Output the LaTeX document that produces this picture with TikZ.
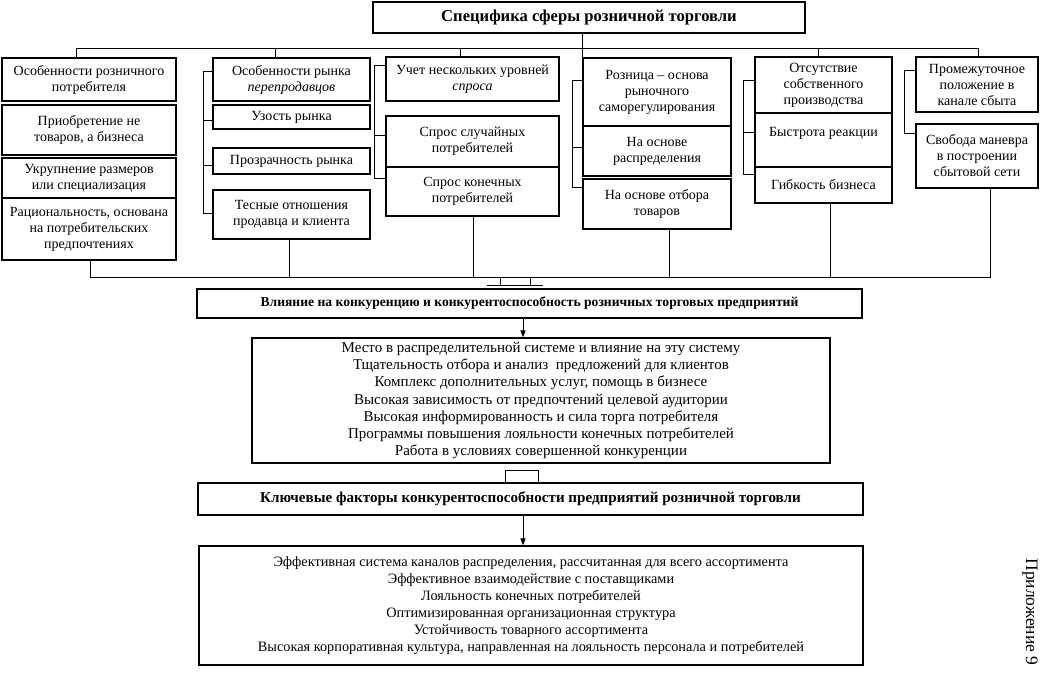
\documentclass[tikz,border=0pt]{standalone}
\usepackage{fontspec}
\setmainfont{Liberation Serif}
\usetikzlibrary{arrows.meta}
\newcommand\fsz[2]{\fontsize{#1}{#2}\selectfont}
\begin{document}
\begin{tikzpicture}[x=1pt,y=-1pt,
  box/.style={draw, line width=1.15pt, inner sep=1pt, align=center, font=\fsz{14}{16}},
  ln/.style={line width=1pt},
  arr/.style={line width=1pt, -{Triangle[length=7pt,width=5pt]}}]
\useasboundingbox (0,0) rectangle (1041,672);
% title
\node[box, minimum width=432, minimum height=31, font=\fsz{16.6}{20}\bfseries] (title) at (589,17.5) {Специфика сферы розничной торговли};
% column 1
\node[box, minimum width=174, minimum height=43] (b1a) at (89,79.5) {Особенности розничного\\потребителя};
\node[box, minimum width=174, minimum height=50] (b1b) at (89,130) {Приобретение не\\товаров, а бизнеса};
\node[box, minimum width=174, minimum height=40] (b1c) at (89,178) {Укрупнение размеров\\или специализация};
\node[box, minimum width=174, minimum height=62] (b1d) at (89,229) {Рациональность, основана\\на потребительских\\предпочтениях};
% column 2
\node[box, minimum width=157, minimum height=43] (b2a) at (291.5,79.5) {Особенности рынка\\\textit{перепродавцов}};
\node[box, minimum width=157, minimum height=24] (b2b) at (291.5,117) {Узость рынка};
\node[box, minimum width=157, minimum height=26] (b2c) at (291.5,161) {Прозрачность рынка};
\node[box, minimum width=157, minimum height=49] (b2d) at (291.5,214.5) {Тесные отношения\\продавца и клиента};
% column 3
\node[box, minimum width=173, minimum height=44] (b3a) at (472.5,79) {Учет нескольких уровней\\\textit{спроса}};
\node[box, minimum width=173, minimum height=51] (b3b) at (472.5,141.5) {Спрос случайных\\потребителей};
\node[box, minimum width=173, minimum height=49] (b3c) at (472.5,191.5) {Спрос конечных\\потребителей};
% column 4
\node[box, minimum width=148, minimum height=68] (b4a) at (657,92) {Розница -- основа\\рыночного\\саморегулирования};
\node[box, minimum width=148, minimum height=50] (b4b) at (657,151) {На основе\\распределения};
\node[box, minimum width=148, minimum height=50] (b4c) at (657,204) {На основе отбора\\товаров};
% column 5
\node[box, minimum width=137, minimum height=56] (b5a) at (823.5,85) {Отсутствие\\собственного\\производства};
\node[box, minimum width=137, minimum height=54] (b5b) at (823.5,140) {Быстрота реакции\\\mbox{}};
\node[box, minimum width=137, minimum height=36] (b5c) at (823.5,185) {Гибкость бизнеса};
% column 6
\node[box, minimum width=122, minimum height=55] (b6a) at (977,84.5) {Промежуточное\\положение в\\канале сбыта};
\node[box, minimum width=122, minimum height=64] (b6b) at (977,156) {Свобода маневра\\в построении\\сбытовой сети};
% lower part
\node[box, minimum width=665, minimum height=29, font=\fsz{13.6}{16}\bfseries] (vl) at (529.5,303.5) {Влияние на конкуренцию и конкурентоспособность розничных торговых предприятий};
\node[box, minimum width=578, minimum height=125, font=\fsz{15}{17.2}] (list1) at (541,400.5) {Место в распределительной системе и влияние на эту систему\\Тщательность отбора и анализ\ \ предложений для клиентов\\Комплекс дополнительных услуг, помощь в бизнесе\\Высокая зависимость от предпочтений целевой аудитории\\Высокая информированность и сила торга потребителя\\Программы повышения лояльности конечных потребителей\\Работа в условиях совершенной конкуренции};
\node[box, minimum width=665, minimum height=32, font=\fsz{15.1}{18}\bfseries] (key) at (530.5,499) {Ключевые факторы конкурентоспособности предприятий розничной торговли};
\node[box, minimum width=664, minimum height=119, font=\fsz{14.3}{17}] (list2) at (531,605.5) {Эффективная система каналов распределения, рассчитанная для всего ассортимента\\Эффективное взаимодействие с поставщиками\\Лояльность конечных потребителей\\Оптимизированная организационная структура\\Устойчивость товарного ассортимента\\Высокая корпоративная культура, направленная на лояльность персонала и потребителей};
\node[rotate=-90, font=\fsz{17.5}{19}, inner sep=0pt] (app) at (1030,612) {Приложение 9};
% top tree
\draw[ln] (title.south -| b4a.north west) -- (b4a.north west);
\draw[ln] (b1a.north -| 76,0) -- (76,48) -- (978,48) -- (b6a.north -| 978,0);
\draw[ln] (275,48) -- (b2a.north -| 275,0);
\draw[ln] (460,48) -- (b3a.north -| 460,0);
\draw[ln] (818,48) -- (b5a.north -| 818,0);
% brackets
\draw[ln] (b2a.west |- 0,71) -- (203,71) -- (203,213) -- (b2d.west |- 0,213);
\draw[ln] (203,120) -- (b2b.west |- 0,120);
\draw[ln] (203,165) -- (b2c.west |- 0,165);
\draw[ln] (b3a.west |- 0,65) -- (374,65) -- (374,178) -- (b3c.west |- 0,178);
\draw[ln] (374,135) -- (b3b.west |- 0,135);
\draw[ln] (b4a.west |- 0,80) -- (572,80) -- (572,187) -- (b4c.west |- 0,187);
\draw[ln] (572,147) -- (b4b.west |- 0,147);
\draw[ln] (b5a.west |- 0,80) -- (743,80) -- (743,174) -- (b5c.west |- 0,174);
\draw[ln] (743,132) -- (b5b.west |- 0,132);
\draw[ln] (b6a.west |- 0,70) -- (904,70) -- (904,133) -- (b6b.west |- 0,133);
% bottom collector
\draw[ln] (b1d.south -| 90,0) -- (90,277) -- (990,277) -- (b6b.south -| 990,0);
\draw[ln] (b2d.south -| 289,0) -- (289,277);
\draw[ln] (b3c.south -| 473,0) -- (473,277);
\draw[ln] (b4c.south -| 669,0) -- (669,277);
\draw[ln] (b5c.south -| 830,0) -- (830,277);
\draw[ln] (500,277) -- (500,285) (530,277) -- (530,285) (487,285) -- (543,285);
% arrows
\draw[arr] (vl.south -| 523,0) -- (list1.north -| 523,0);
\draw[ln] (key.north -| 505,0) -- (505,470) -- (538,470) -- (key.north -| 538,0);
\draw[arr] (key.south -| 523,0) -- (list2.north -| 523,0);
\end{tikzpicture}
\end{document}
